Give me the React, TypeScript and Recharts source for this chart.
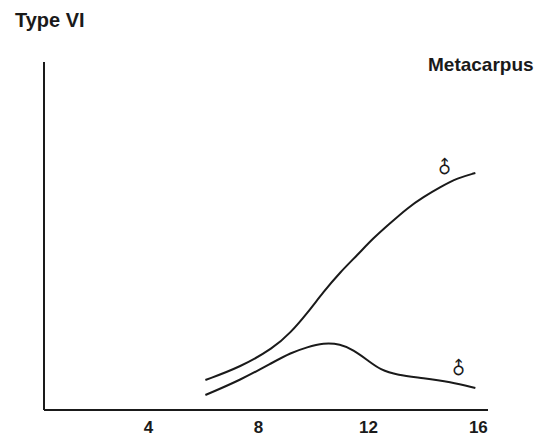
import React from 'react'
import { LineChart, Line, XAxis, YAxis, ReferenceDot } from 'recharts'

const ageTicks = [4, 8, 12, 16]

const upperAge = [6.07, 7.35, 8.55, 9.16, 9.78, 10.36, 10.98, 11.6, 12.18, 12.8, 13.42, 14.0, 14.62, 15.24, 15.89]
const upperLevel = [30, 43, 62, 77, 97, 118, 138, 155, 172, 187, 202, 213, 223, 232, 237]

const lowerAge = [6.07, 7.35, 8.55, 9.16, 9.78, 10.36, 10.98, 11.45, 11.96, 12.44, 13.05, 14.0, 14.98, 15.89]
const lowerLevel = [15, 30, 48, 57, 63, 67, 66, 60, 50, 40, 35, 32, 28, 22]

const upperData = upperAge.map((age, i) => ({ age, level: upperLevel[i] }))
const lowerData = lowerAge.map((age, i) => ({ age, level: lowerLevel[i] }))

const font = '"Liberation Sans", Arial, sans-serif'
const ink = '#1a1a1a'

const SexLabel = (props: any) => {
  const { viewBox } = props
  const x = viewBox.x + (viewBox.width || 0) / 2
  const y = viewBox.y + (viewBox.height || 0) / 2
  return (
    <text
      x={x}
      y={y}
      fontFamily='"DejaVu Sans", sans-serif'
      fontSize={18}
      fontWeight={700}
      fill={ink}
      textAnchor="middle"
      dominantBaseline="central"
      transform={`rotate(-45 ${x} ${y})`}
    >
      ♂
    </text>
  )
}

export default function App() {
  return (
    <div style={{ position: 'absolute', left: 0, top: 0, width: 541, height: 436, background: '#fff', fontFamily: font }}>
      <div style={{ position: 'absolute', left: 15, top: 9, fontSize: 20, fontWeight: 700, color: ink }}>Type VI</div>
      <div style={{ position: 'absolute', left: 428, top: 54, fontSize: 19, fontWeight: 700, color: ink }}>Metacarpus</div>
      <LineChart width={541} height={436} margin={{ top: 62, right: 53, bottom: 0, left: 0 }} style={{ overflow: 'visible' }}>
        <XAxis
          type="number"
          dataKey="age"
          domain={[0.2, 16.35]}
          ticks={ageTicks}
          allowDataOverflow
          height={26}
          tickLine={false}
          tickMargin={5}
          axisLine={{ stroke: ink, strokeWidth: 2 }}
          tick={{ fill: ink, fontSize: 17, fontWeight: 700, fontFamily: font }}
        />
        <YAxis
          type="number"
          domain={[0, 348]}
          width={44}
          tick={false}
          tickLine={false}
          axisLine={{ stroke: ink, strokeWidth: 2 }}
        />
        <Line data={upperData} dataKey="level" type="basis" stroke={ink} strokeWidth={2} dot={false} isAnimationActive={false} />
        <Line data={lowerData} dataKey="level" type="basis" stroke={ink} strokeWidth={2} dot={false} isAnimationActive={false} />
        <ReferenceDot x={14.76} y={243} r={0} label={<SexLabel />} />
        <ReferenceDot x={15.27} y={42} r={0} label={<SexLabel />} />
      </LineChart>
    </div>
  )
}
